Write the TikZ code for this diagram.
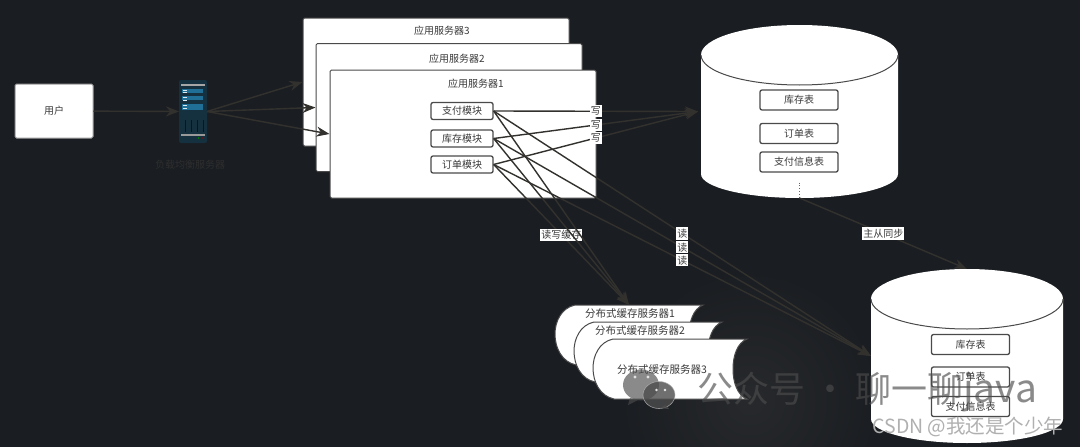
\documentclass[tikz,border=0pt]{standalone}
\usepackage{fontspec}
\setmainfont{Noto Sans CJK SC}
\usetikzlibrary{arrows.meta,calc}
\definecolor{bgc}{HTML}{1A1D21}
\definecolor{glowc}{HTML}{27292C}
\definecolor{linec}{HTML}{32312E}
\definecolor{txt}{HTML}{3A3A3A}
\definecolor{iconc}{HTML}{15303F}
\definecolor{iconb}{HTML}{1F6F96}
\definecolor{edgec}{HTML}{4A4A4A}
\definecolor{csdnc}{HTML}{B0B0B0}
\tikzset{
  x=1pt,y=-1pt,
  boxstyle/.style={draw=#1,fill=white,rounded corners=1.5pt,line width=1pt,inner sep=0pt,text=txt,font=\fontsize{10}{12}\selectfont},
  boxstyle/.default={edgec},
  appbox/.style={boxstyle,minimum width=266pt,minimum height=128pt},
  modbox/.style={boxstyle,line width=1.3pt,rounded corners=2pt,minimum width=62pt,minimum height=17pt},
  tblbox/.style={boxstyle,line width=1.3pt,rounded corners=2pt,minimum width=78pt,minimum height=20pt},
  ghost/.style={inner sep=0pt,outer sep=0pt},
  title/.style={inner sep=0pt,text=txt,font=\fontsize{10}{12}\selectfont},
  conn/.style={draw=linec,line width=1.4pt,-{Stealth[length=13pt,width=10pt]}},
  lab/.style={fill=white,inner xsep=1pt,inner ysep=1.5pt,text=txt,font=\fontsize{10}{11}\selectfont},
  cyl/.style={fill=white},
  cacheshape/.style={fill=white,draw=edgec,line width=1pt},
  wm/.style={inner sep=0pt,text=black!70,opacity=.65,font=\fontsize{36}{40}\selectfont}
}
% left, top, right, bottom, ry
\newcommand{\cylinderpath}[5]{%
  \path[cyl] (#1,#2+#5)
    .. controls (#1,#2+#5*.45) and ({#1+(#3-#1)*.22},#2) .. ({(#1+#3)/2},#2)
    .. controls ({#3-(#3-#1)*.22},#2) and (#3,#2+#5*.45) .. (#3,#2+#5)
    -- (#3,#4-24)
    .. controls (#3,#4-11) and ({#3-(#3-#1)*.22},#4) .. ({(#1+#3)/2},#4)
    .. controls ({#1+(#3-#1)*.22},#4) and (#1,#4-11) .. (#1,#4-24) -- cycle;
  \draw[edgec,line width=1pt] (#1,#2+#5)
    .. controls (#1,#2+#5*1.55) and ({#1+(#3-#1)*.22},#2+#5*2) .. ({(#1+#3)/2},#2+#5*2)
    .. controls ({#3-(#3-#1)*.22},#2+#5*2) and (#3,#2+#5*1.55) .. (#3,#2+#5);
}
% left, top, right, name
\newcommand{\cachepath}[4]{%
  \path[cacheshape] (#1+20,#2) .. controls (#1+6,#2+3) and (#1,#2+17) .. (#1,#2+29)
    .. controls (#1,#2+43) and (#1+7,#2+57) .. (#1+21,#2+60) -- (#3,#2+60)
    .. controls (#3-10,#2+56) and (#3-14,#2+43) .. (#3-14,#2+30)
    .. controls (#3-14,#2+17) and (#3-10,#2+4) .. (#3,#2) -- cycle;
  \node[ghost,minimum width=#3-#1,minimum height=60pt] (#4) at ({(#1+#3)/2},#2+30) {};
}
\begin{document}
\begin{tikzpicture}
\useasboundingbox (0,0) rectangle (1080,447);
\fill[bgc] (0,0) rectangle (1080,447);
\begin{scope}
  \clip (0,0) rectangle (1080,447);
  \shade[inner color=glowc,outer color=bgc] (750,400) circle[radius=130pt];
\end{scope}

% user
\node[boxstyle={black!40},minimum width=78pt,minimum height=54pt] (user) at (54,111) {用户};

% load balancer icon
\node[ghost,fill=iconc,rounded corners=2pt,minimum width=28pt,minimum height=63pt] (lb) at (193,111.5) {};
\fill[black!35] (181,84) rectangle (205,85.5);
\fill[iconb] (182,88.5) rectangle (203,92.5);
\fill[iconb] (182,96) rectangle (203,100);
\fill[iconb] (182,104) rectangle (203,110);
\foreach \yy in {89.5,92,97,100,104.5,108}{\fill[white!85!iconb] (183,\yy) rectangle (187,\yy+1);}
\fill[black!40] (181,134) rectangle (205,135.5);
\foreach \xx in {185,191,197,203}{\fill[black!55!iconc] (\xx,120) rectangle (\xx+.8,132);}
\fill[green!50!black] (198.5,138) circle[radius=1pt];
\fill[red!60!black] (203,138) circle[radius=1pt];
\node[ghost,text=black!82,font=\fontsize{10}{12}\selectfont] (lblab) at (190,165) {负载均衡服务器};

% application servers
\node[appbox,fill=white,draw=edgec] (app3) at (436,82) {};
\node[title] (app3t) at (442,31) {应用服务器3};
\node[appbox] (app2) at (449,107.5) {};
\node[title] (app2t) at (457,59) {应用服务器2};
\node[appbox] (app1) at (463,134) {};
\node[title] (app1t) at (476,84) {应用服务器1};
\node[modbox] (pay) at (462,111) {支付模块};
\node[modbox] (stock) at (462,138.5) {库存模块};
\node[modbox] (order) at (462,164.5) {订单模块};

% master database
\cylinderpath{701}{25}{898}{198}{30}
\node[ghost,minimum width=197pt,minimum height=173pt] (master) at (799.5,111.5) {};
\node[tblbox] (mstock) at (799,100) {库存表};
\node[tblbox] (morder) at (799,133.5) {订单表};
\node[tblbox] (mpay) at (799,162) {支付信息表};
\draw[black!60,line width=.8pt,dotted,shorten <=10pt] (mpay.south) -- (master.south -| mpay.south);

% slave database
\cylinderpath{871}{269}{1063}{443}{30}
\node[ghost,minimum width=192pt,minimum height=174pt] (slave) at (967,356) {};
\node[tblbox] (sstock) at (970.5,344.5) {库存表};
\node[tblbox] (sorder) at (970.5,377) {订单表};
\node[tblbox] (spay) at (970.5,406.5) {支付信息表};

% caches
\cachepath{555}{305}{703}{cacheA}
\node[title,font=\fontsize{10.5}{12}\selectfont] (cacheAt) at (630,313.5) {分布式缓存服务器1};
\cachepath{574}{322}{722}{cacheB}
\node[title,font=\fontsize{10.5}{12}\selectfont] (cacheBt) at (640,331) {分布式缓存服务器2};
\cachepath{593}{339}{747}{cacheC}
\node[title,font=\fontsize{10.5}{12}\selectfont] (cacheCt) at (662,369.5) {分布式缓存服务器3};

% connectors
\draw[conn] (user) -- (lb);
\draw[conn] (lb.east) -- (app3.west);
\draw[conn] (lb.east) -- (app2.west);
\draw[conn] (lb.east) -- (app1.west);

\draw[conn] (pay.east) -- node[lab]{写} ([xshift=-3pt]master.west);
\draw[conn] (stock.east) -- node[lab]{写} ([xshift=-3pt]master.west);
\draw[conn] (order.east) -- node[lab]{写} ([xshift=-3pt]master.west);

\draw[conn] (order.east) -- node[lab]{读写缓存} (cacheA.north);
\draw[conn] (pay.east) -- (cacheA.north);
\draw[conn] (stock.east) -- (cacheA.north);

\draw[conn] (pay.east) -- node[lab]{读} (slave.west);
\draw[conn] (stock.east) -- node[lab]{读} (slave.west);
\draw[conn] (order.east) -- node[lab]{读} (slave.west);

\draw[conn] (master.south) -- node[lab]{主从同步} (slave.north);

% watermarks
\begin{scope}[opacity=.65]
  \fill[black!70] (641,385) ellipse[x radius=18pt,y radius=15.5pt];
  \fill[black!70] (630,398) -- (628,405) -- (638,400) -- cycle;
\end{scope}
\fill[white,opacity=.75] (635,377) circle[radius=1.7pt] (648,377) circle[radius=1.7pt];
\begin{scope}[opacity=.8]
  \fill[black!70,draw=white!70!black,line width=.6pt] (659,395) ellipse[x radius=16pt,y radius=13.5pt];
  \fill[black!70] (665,405) -- (669,409) -- (660,408) -- cycle;
\end{scope}
\fill[white,opacity=.85] (656.5,390) circle[radius=1.4pt] (665,390) circle[radius=1.4pt];
\node[wm,anchor=west] (wmtext) at (697,392) {公众号\hspace{7pt}·\hspace{7pt}聊一聊{\fontsize{39}{40}\selectfont java}};
\node[ghost,text=csdnc,font=\fontsize{19.5}{22}\selectfont] (csdn) at (968,427) {CSDN @我还是个少年};
\end{tikzpicture}
\end{document}
